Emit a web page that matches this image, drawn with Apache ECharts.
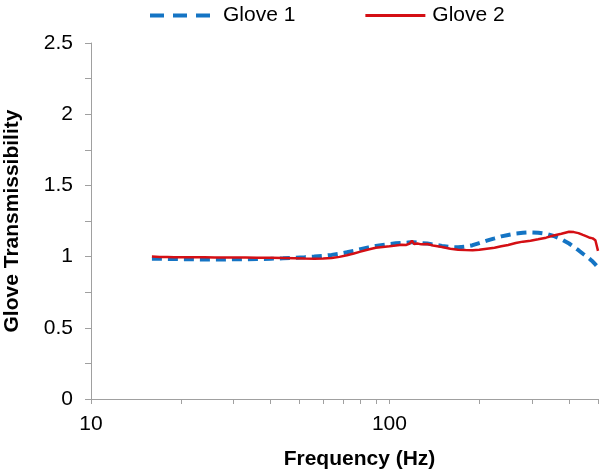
<!DOCTYPE html>
<html>
<head>
<meta charset="utf-8">
<script src="https://cdn.jsdelivr.net/npm/echarts@6/dist/echarts.min.js"></script>
<style>html,body{margin:0;padding:0;background:#fff}#c{width:600px;height:473px}</style>
</head>
<body>
<div id="c"></div>
<script>
const freq = [16,17,18,19,20,22,24,26,28,30,33,36,40,44,48,52,56,60,64,68,72,76,80,85,90,95,100,105,110,114,117,119,121,124,128,134,140,150,160,170,180,190,200,212,225,237,250,265,280,297,315,335,355,377,400,415,430,445,460,470,480,490,500];
const glove1 = [0.985,0.985,0.984,0.983,0.982,0.981,0.980,0.980,0.980,0.981,0.982,0.983,0.985,0.988,0.992,0.996,1.000,1.005,1.012,1.020,1.030,1.040,1.052,1.065,1.075,1.082,1.088,1.093,1.097,1.098,1.100,1.102,1.100,1.098,1.095,1.092,1.085,1.075,1.068,1.065,1.070,1.080,1.095,1.112,1.128,1.142,1.152,1.162,1.167,1.170,1.168,1.160,1.145,1.122,1.092,1.068,1.045,1.020,0.998,0.982,0.965,0.945,0.925];
const glove2 = [1.000,0.998,0.997,0.996,0.996,0.995,0.995,0.994,0.994,0.993,0.993,0.992,0.992,0.990,0.988,0.986,0.985,0.986,0.990,0.998,1.010,1.022,1.035,1.050,1.062,1.068,1.072,1.078,1.084,1.082,1.092,1.112,1.088,1.092,1.086,1.088,1.078,1.068,1.055,1.048,1.046,1.045,1.048,1.055,1.062,1.072,1.082,1.095,1.105,1.112,1.122,1.133,1.148,1.160,1.175,1.172,1.165,1.152,1.140,1.132,1.128,1.115,1.040];
const xTickValues = [10,20,30,40,50,60,70,80,90,100,200,300,400,500];
const xLabelValues = [10,100];
const yTickValues = [0,0.25,0.5,0.75,1,1.25,1.5,1.75,2,2.25,2.5];
const yLabelValues = [0,0.5,1,1.5,2,2.5];
const seriesNames = ['Glove 1','Glove 2'];

const FONT = "'Liberation Sans', Arial, sans-serif";
const axisColor = '#a0a0a0';
const blue = '#1474c4', red = '#d40f14';
const chart = echarts.init(document.getElementById('c'), null, {renderer:'canvas'});
chart.setOption({
  animation:false,
  backgroundColor:'#fff',
  textStyle:{fontFamily:FONT},
  grid:{left:91,right:2,top:43,bottom:74, outerBoundsMode:'none', containLabel:false},
  legend:{
    top:0, left:145, itemWidth:60, itemHeight:4, itemGap:70,
    textStyle:{fontSize:21, color:'#000', fontFamily:FONT, padding:[0,0,10,8]},
    data:[
      {name:seriesNames[0], icon:'path://M0,0h14v4H0z M23,0h14v4H23z M46,0h14v4H46z', itemStyle:{color:blue}},
      {name:seriesNames[1], icon:'path://M0,0h60v3H0z', itemStyle:{color:red}, textStyle:{padding:[0,0,10,2]}}
    ]
  },
  xAxis:{
    type:'log', logBase:10, min:10, max:500,
    name:'Frequency (Hz)', nameLocation:'middle', nameGap:50,
    nameTextStyle:{fontSize:21, fontWeight:'bold', color:'#000', fontFamily:FONT, padding:[0,0,0,30]},
    axisLine:{lineStyle:{color:axisColor, width:1}},
    axisTick:{show:true, length:5, lineStyle:{color:axisColor}, customValues:xTickValues},
    axisLabel:{fontSize:21, color:'#000', margin:15, fontFamily:FONT, customValues:xLabelValues},
    splitLine:{show:false}, minorTick:{show:false}
  },
  yAxis:{
    type:'value', min:0, max:2.5, interval:0.5,
    name:'Glove Transmissibility', nameLocation:'middle', nameGap:68, nameRotate:90,
    nameTextStyle:{fontSize:21, fontWeight:'bold', color:'#000', fontFamily:FONT},
    axisLine:{show:true, lineStyle:{color:axisColor, width:1}},
    axisTick:{show:true, length:6, lineStyle:{color:axisColor}, customValues:yTickValues},
    axisLabel:{fontSize:21, color:'#000', margin:18, fontFamily:FONT, customValues:yLabelValues},
    splitLine:{show:false}
  },
  series:[
    {
      name:seriesNames[0], type:'line', showSymbol:false, symbol:'none', smooth:false,
      data:freq.map((f,i)=>[f,glove1[i]]),
      lineStyle:{color:blue, width:4, type:[10,6]},
      itemStyle:{color:blue}, z:2
    },
    {
      name:seriesNames[1], type:'line', showSymbol:false, symbol:'none', smooth:false,
      data:freq.map((f,i)=>[f,glove2[i]]),
      lineStyle:{color:red, width:2.5},
      itemStyle:{color:red}, z:3
    }
  ]
});
</script>
</body>
</html>
